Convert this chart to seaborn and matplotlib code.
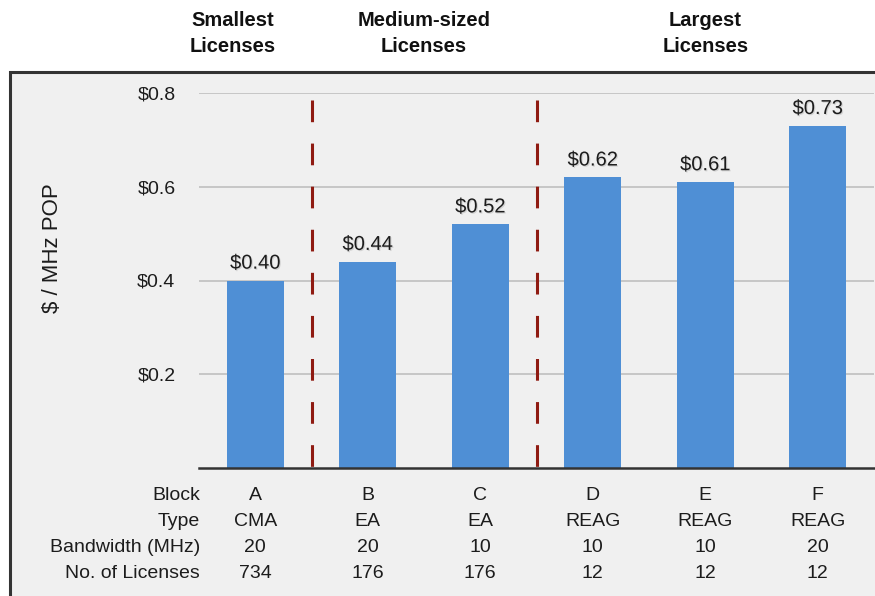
import matplotlib
matplotlib.use("Agg")
import matplotlib.pyplot as plt
import matplotlib.patches as mpatches
import matplotlib.patheffects as pe
from matplotlib.transforms import blended_transform_factory
import seaborn as sns
import pandas as pd

# ---- data -------------------------------------------------------------
blocks = ["A", "B", "C", "D", "E", "F"]
price_per_mhz_pop = [0.40, 0.44, 0.52, 0.62, 0.61, 0.73]
license_types = ["CMA", "EA", "EA", "REAG", "REAG", "REAG"]
bandwidth_mhz = ["20", "20", "10", "10", "10", "20"]
num_licenses = ["734", "176", "176", "12", "12", "12"]
row_labels = ["Block", "Type", "Bandwidth (MHz)", "No. of Licenses"]
group_labels = ["Smallest\nLicenses", "Medium-sized\nLicenses", "Largest\nLicenses"]
group_centers = [-0.2, 1.5, 4.0]
group_dividers = [0.5, 2.5]
y_ticks = [0.2, 0.4, 0.6, 0.8]

df = pd.DataFrame({"Block": blocks, "Price": price_per_mhz_pop})

# ---- style ------------------------------------------------------------
sns.set_theme(style="white")
plt.rcParams["font.family"] = ["Liberation Sans", "DejaVu Sans"]
TEXT = "#1c1c1c"
BAR = "#4F8FD5"
PANEL = "#f0f0f0"

W, H = 875, 596
fig = plt.figure(figsize=(W / 100, H / 100), dpi=100)
fig.patch.set_facecolor("white")

# grey framed panel behind the chart and the table
panel = mpatches.Rectangle((10 / W, -0.05), 1.1, (H - 72) / H + 0.05,
                           transform=fig.transFigure, facecolor=PANEL,
                           edgecolor="#333333", linewidth=2.2, zorder=0)
fig.patches.append(panel)

ax = fig.add_axes([199 / W, (H - 468) / H, (874 - 199) / W, (468 - 93) / H])
ax.set_zorder(2)
ax.set_facecolor("none")

sns.barplot(data=df, x="Block", y="Price", color=BAR, saturation=1,
            width=0.51, linewidth=0, ax=ax, zorder=3)

ax.set_xlim(-0.5, 5.5)
ax.set_ylim(0, 0.8)
ax.set_yticks(y_ticks)
ax.set_yticklabels([f"${t:.1f}" for t in y_ticks])
ax.tick_params(axis="y", length=0, pad=17, labelsize=14, labelcolor=TEXT)
ax.set_xticks([])
ax.set_xlabel("")
ax.set_ylabel("")
ax.grid(axis="y", color="#c6c6c6", linewidth=1.4, zorder=1)
ax.set_axisbelow(True)
for side in ["top", "right", "left"]:
    ax.spines[side].set_visible(False)
ax.spines["bottom"].set_color("#333333")
ax.spines["bottom"].set_linewidth(1.8)
ax.spines["bottom"].set_zorder(5)

# value labels above bars
shadow = [pe.withSimplePatchShadow(offset=(0.8, -0.8), shadow_rgbFace="#9a9a9a", alpha=0.35)]
for i, v in enumerate(price_per_mhz_pop):
    ax.text(i, v + 0.037, f"${v:.2f}", ha="center", va="center", fontsize=14.5,
            color=TEXT, zorder=6, path_effects=shadow, clip_on=False)

# dashed dividers between license-size groups
for xd in group_dividers:
    ax.plot([xd, xd], [0.785, 0.0], color="#8f1b12", linewidth=2.2,
            dashes=(7.1, 7.0), zorder=4, solid_capstyle="butt")

# group headers above the panel
hdr = blended_transform_factory(ax.transData, fig.transFigure)
for label, xc in zip(group_labels, group_centers):
    ax.text(xc, (H - 33.5) / H, label, transform=hdr, ha="center", va="center",
            fontsize=14.5, fontweight="bold", color="#111111", linespacing=1.5,
            multialignment="center", clip_on=False)

# y-axis title
fig.text(53 / W, (H - 248) / H, "$ / MHz POP", rotation=90, ha="center",
         va="center", fontsize=16, color=TEXT)

# table beneath the bars
row_y = [495, 521, 547, 573]
rows = [blocks, license_types, bandwidth_mhz, num_licenses]
for lab, yy, vals in zip(row_labels, row_y, rows):
    fig.text(200 / W, (H - yy) / H, lab, ha="right", va="center",
             fontsize=14, color=TEXT)
    for i, val in enumerate(vals):
        ax.text(i, (H - yy) / H, val, transform=hdr, ha="center", va="center",
                fontsize=14, color=TEXT, clip_on=False)

fig.savefig("out.png", dpi=100, facecolor=fig.get_facecolor())
